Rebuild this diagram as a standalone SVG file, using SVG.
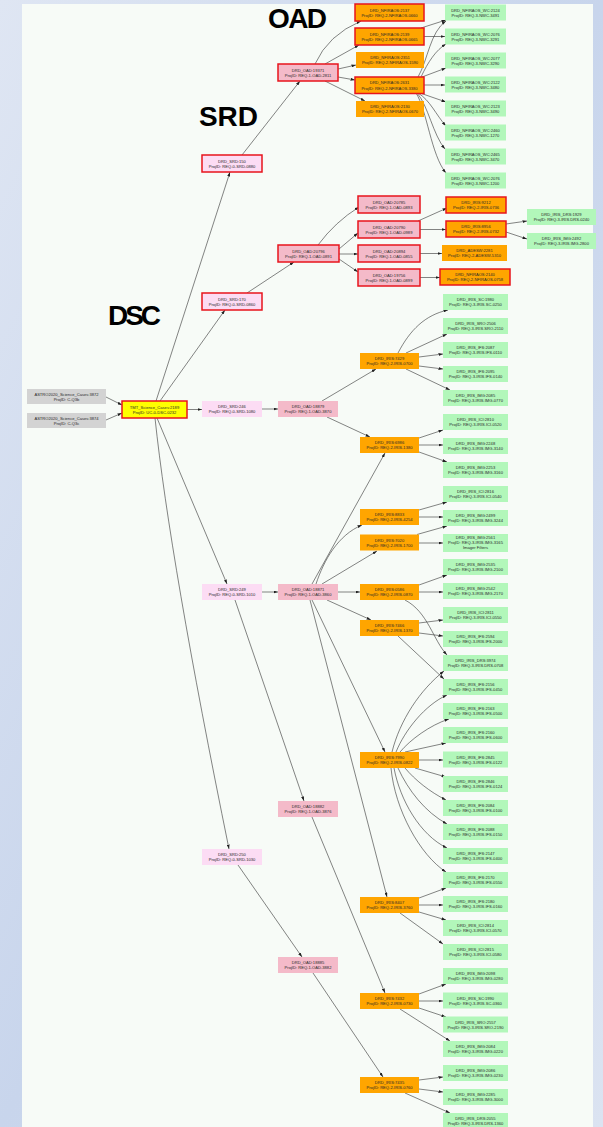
<svg xmlns="http://www.w3.org/2000/svg" width="603" height="1127" viewBox="0 0 603 1127">
<defs>
<style>
.t{font-family:"Liberation Sans",Arial,sans-serif;font-size:4.1px;fill:#2a2a2a;text-anchor:middle}
.big{font-family:"Liberation Sans",Arial,sans-serif;font-size:28px;font-weight:bold;fill:#000}
.gr{fill:#d3d3d3}
.dsc{fill:#ffff00;stroke:#e8141c;stroke-width:1.5}
.srd{fill:#fcdcf4}
.oad{fill:#f4bac9}
.or{fill:#ffa500}
.gn{fill:#b2f7ba}
.rb{stroke:#e8141c;stroke-width:1.5}
.e{fill:none;stroke:#333;stroke-width:0.6;marker-end:url(#ah)}
</style>
<marker id="ah" viewBox="0 0 6 4" refX="6" refY="2" markerWidth="4.5" markerHeight="3" orient="auto" markerUnits="userSpaceOnUse"><path d="M0,0L6,2L0,4z" fill="#222"/></marker>
<linearGradient id="bgG" x1="0" y1="0" x2="1" y2="1"><stop offset="0" stop-color="#dfe6f3"/><stop offset="0.5" stop-color="#c8d5ec"/><stop offset="1" stop-color="#dbe3f1"/></linearGradient>
</defs>
<rect width="603" height="1127" fill="url(#bgG)"/>
<rect x="22" y="4" width="571" height="1123" fill="#f7fbf7"/>
<g id="titles">
<text class="big" x="268" y="28" textLength="59">OAD</text>
<text class="big" x="199" y="126" textLength="59">SRD</text>
<text class="big" x="108" y="325" textLength="53">DSC</text>
</g>
<g id="connectors">
<path class="e" d="M106,397 L122,405"/>
<path class="e" d="M106,420 L122,413"/>
<path class="e" d="M187,409.5 L202,409.5"/>
<path class="e" d="M156,401 L230,172"/>
<path class="e" d="M160,401 L225,310"/>
<path class="e" d="M157,418 L227,584"/>
<path class="e" d="M155,418 Q170,560 229,849"/>
<path class="e" d="M242,155 L300,81"/>
<path class="e" d="M247,293 L294,262"/>
<path class="e" d="M262,409 L278,409"/>
<path class="e" d="M262,592 L278,592"/>
<path class="e" d="M235,600 L304,801"/>
<path class="e" d="M238,865 L302,957"/>
<path class="e" d="M315,64 Q328,35 361,21"/>
<path class="e" d="M325,64 L359,45"/>
<path class="e" d="M338,69 L356,65"/>
<path class="e" d="M338,77 L355,80"/>
<path class="e" d="M325,81 L365,101"/>
<path class="e" d="M421,28 L446,20"/>
<path class="e" d="M424,36.5 L445,36.5"/>
<path class="e" d="M418,77 C428,60 430,32 446,21"/>
<path class="e" d="M421,77 C428,62 436,50 446,44"/>
<path class="e" d="M422,77 L446,68"/>
<path class="e" d="M424,85 L445,85"/>
<path class="e" d="M420,93 L446,102"/>
<path class="e" d="M418,93 C430,100 436,115 446,126"/>
<path class="e" d="M417,93 C428,105 433,135 445,149"/>
<path class="e" d="M416,93 C427,110 431,155 446,173"/>
<path class="e" d="M318,245 Q335,222 359,207"/>
<path class="e" d="M339,249 L358,233"/>
<path class="e" d="M339,254 L358,254"/>
<path class="e" d="M339,259 L358,272"/>
<path class="e" d="M418,221 L447,208"/>
<path class="e" d="M420,229.5 L446,229.5"/>
<path class="e" d="M420,253.5 L442,253.5"/>
<path class="e" d="M420,277.5 L440,277.5"/>
<path class="e" d="M506,224 L527,221"/>
<path class="e" d="M506,232 L527,239"/>
<path class="e" d="M322,401 L376,369"/>
<path class="e" d="M327,417 L370,437"/>
<path class="e" d="M312,584 L385,453"/>
<path class="e" d="M316,584 C324,560 338,535 362,525"/>
<path class="e" d="M322,584 L377,551"/>
<path class="e" d="M338,592 L360,592"/>
<path class="e" d="M327,600 L371,620"/>
<path class="e" d="M312,600 L385,752"/>
<path class="e" d="M310,600 L387,897"/>
<path class="e" d="M312,817 L385,993"/>
<path class="e" d="M313,973 L383,1077"/>
<path class="e" d="M398,353 C410,330 425,315 448,310"/>
<path class="e" d="M406,353 L447,334"/>
<path class="e" d="M419,357 L443,354"/>
<path class="e" d="M419,366 L443,369"/>
<path class="e" d="M406,369 L450,390"/>
<path class="e" d="M419,438 L443,430"/>
<path class="e" d="M419,445 L443,445"/>
<path class="e" d="M419,452 L447,462"/>
<path class="e" d="M419,510 L447,502"/>
<path class="e" d="M419,517 L443,517"/>
<path class="e" d="M417,534.5 L447,526"/>
<path class="e" d="M419,543 L443,543"/>
<path class="e" d="M419,585 L447,575"/>
<path class="e" d="M419,592 L443,592"/>
<path class="e" d="M405,600 C428,612 433,640 447,655"/>
<path class="e" d="M419,623 L443,620"/>
<path class="e" d="M419,633 L443,636"/>
<path class="e" d="M398,636 L444,679"/>
<path class="e" d="M392,752 C400,720 420,690 444,671"/>
<path class="e" d="M396,752 C405,730 425,705 447,695"/>
<path class="e" d="M400,752 C410,740 430,725 449,719"/>
<path class="e" d="M405,752 L446,743"/>
<path class="e" d="M419,760 L443,760"/>
<path class="e" d="M415,768 L446,777"/>
<path class="e" d="M405,768 C415,780 430,792 446,800"/>
<path class="e" d="M398,768 C408,790 425,812 447,824"/>
<path class="e" d="M394,768 C400,800 420,835 447,848"/>
<path class="e" d="M391,768 C395,810 420,855 446,872"/>
<path class="e" d="M419,898 L446,888"/>
<path class="e" d="M419,905 L443,905"/>
<path class="e" d="M419,912 L446,920"/>
<path class="e" d="M400,913 L443,944"/>
<path class="e" d="M419,994 L446,984"/>
<path class="e" d="M419,1001 L443,1001"/>
<path class="e" d="M419,1008 L446,1017"/>
<path class="e" d="M400,1009 L450,1041"/>
<path class="e" d="M419,1080 L443,1077"/>
<path class="e" d="M419,1089 L443,1092"/>
<path class="e" d="M405,1093 L450,1113"/>
</g>
<g id="n_astro3872"><rect class="gr" x="27" y="389" width="79" height="15"/><text class="t" x="66.5" y="395.6">ASTRO2020_Science_Cases:3872</text><text class="t" x="66.5" y="400.8">ProjID: C-Q3b</text></g>
<g id="n_astro3874"><rect class="gr" x="27" y="413" width="79" height="15"/><text class="t" x="66.5" y="419.6">ASTRO2020_Science_Cases:3874</text><text class="t" x="66.5" y="424.8">ProjID: C-Q3c</text></g>
<g id="n_dsc2189"><rect class="dsc" x="122" y="401" width="65" height="17"/><text class="t" x="154.5" y="408.6">TMT_Science_Cases:2189</text><text class="t" x="154.5" y="413.8">ProjID: UC-0-DSC-0232</text></g>
<g id="n_srd150"><rect class="srd rb" x="202" y="155" width="60" height="17"/><text class="t" x="232" y="162.6">DRD_SRD:150</text><text class="t" x="232" y="167.8">ProjID: REQ-0-SRD-0880</text></g>
<g id="n_srd170"><rect class="srd rb" x="202" y="293" width="60" height="17"/><text class="t" x="232" y="300.6">DRD_SRD:170</text><text class="t" x="232" y="305.8">ProjID: REQ-0-SRD-0860</text></g>
<g id="n_srd246"><rect class="srd" x="202" y="401" width="60" height="16"/><text class="t" x="232" y="408.1">DRD_SRD:246</text><text class="t" x="232" y="413.3">ProjID: REQ-0-SRD-1080</text></g>
<g id="n_srd249"><rect class="srd" x="202" y="584" width="60" height="16"/><text class="t" x="232" y="591.1">DRD_SRD:249</text><text class="t" x="232" y="596.3">ProjID: REQ-0-SRD-1010</text></g>
<g id="n_srd250"><rect class="srd" x="202" y="849" width="60" height="16"/><text class="t" x="232" y="856.1">DRD_SRD:250</text><text class="t" x="232" y="861.3">ProjID: REQ-0-SRD-1030</text></g>
<g id="n_oad19371"><rect class="oad rb" x="278" y="64" width="60" height="17"/><text class="t" x="308" y="71.6">DRD_OAD:19371</text><text class="t" x="308" y="76.8">ProjID: REQ-1-OAD-2811</text></g>
<g id="n_oad20796"><rect class="oad rb" x="278" y="245" width="61" height="17"/><text class="t" x="308.5" y="252.6">DRD_OAD:20796</text><text class="t" x="308.5" y="257.8">ProjID: REQ-1-OAD-0891</text></g>
<g id="n_oad18879"><rect class="oad" x="278" y="401" width="60" height="16"/><text class="t" x="308" y="408.1">DRD_OAD:18879</text><text class="t" x="308" y="413.3">ProjID: REQ-1-OAD-3870</text></g>
<g id="n_oad18871"><rect class="oad" x="278" y="584" width="60" height="16"/><text class="t" x="308" y="591.1">DRD_OAD:18871</text><text class="t" x="308" y="596.3">ProjID: REQ-1-OAD-3860</text></g>
<g id="n_oad18882"><rect class="oad" x="278" y="801" width="60" height="16"/><text class="t" x="308" y="808.1">DRD_OAD:18882</text><text class="t" x="308" y="813.3">ProjID: REQ-1-OAD-3876</text></g>
<g id="n_oad18885"><rect class="oad" x="278" y="957" width="60" height="16"/><text class="t" x="308" y="964.1">DRD_OAD:18885</text><text class="t" x="308" y="969.3">ProjID: REQ-1-OAD-3882</text></g>
<g id="n_nf2137"><rect class="or rb" x="355" y="4" width="69" height="17"/><text class="t" x="389.5" y="11.6">DRD_NFIRAOS:2137</text><text class="t" x="389.5" y="16.8">ProjID: REQ-2-NFIRAOS-0660</text></g>
<g id="n_nf2139"><rect class="or rb" x="355" y="28" width="69" height="17"/><text class="t" x="389.5" y="35.6">DRD_NFIRAOS:2139</text><text class="t" x="389.5" y="40.8">ProjID: REQ-2-NFIRAOS-0665</text></g>
<g id="n_nf2351"><rect class="or" x="356" y="52" width="68" height="16"/><text class="t" x="390" y="59.1">DRD_NFIRAOS:2351</text><text class="t" x="390" y="64.3">ProjID: REQ-2-NFIRAOS-1590</text></g>
<g id="n_nf2631"><rect class="or rb" x="355" y="77" width="69" height="16.5"/><text class="t" x="389.5" y="84.4">DRD_NFIRAOS:2631</text><text class="t" x="389.5" y="89.6">ProjID: REQ-2-NFIRAOS-3380</text></g>
<g id="n_nf2130"><rect class="or" x="356" y="101" width="68" height="16"/><text class="t" x="390" y="108.1">DRD_NFIRAOS:2130</text><text class="t" x="390" y="113.3">ProjID: REQ-2-NFIRAOS-0670</text></g>
<g id="n_wc2124"><rect class="gn" x="445" y="4.5" width="61" height="16"/><text class="t" x="475.5" y="11.6">DRD_NFIRAOS_WC:2124</text><text class="t" x="475.5" y="16.8">ProjID: REQ-3-NWC-3491</text></g>
<g id="n_wc2076"><rect class="gn" x="445" y="28.5" width="61" height="16"/><text class="t" x="475.5" y="35.6">DRD_NFIRAOS_WC:2076</text><text class="t" x="475.5" y="40.8">ProjID: REQ-3-NWC-3291</text></g>
<g id="n_wc2077"><rect class="gn" x="445" y="52.5" width="61" height="16"/><text class="t" x="475.5" y="59.6">DRD_NFIRAOS_WC:2077</text><text class="t" x="475.5" y="64.8">ProjID: REQ-3-NWC-3290</text></g>
<g id="n_wc2122"><rect class="gn" x="445" y="76.5" width="61" height="16"/><text class="t" x="475.5" y="83.6">DRD_NFIRAOS_WC:2122</text><text class="t" x="475.5" y="88.8">ProjID: REQ-3-NWC-3480</text></g>
<g id="n_wc2123"><rect class="gn" x="445" y="100.5" width="61" height="16"/><text class="t" x="475.5" y="107.6">DRD_NFIRAOS_WC:2123</text><text class="t" x="475.5" y="112.8">ProjID: REQ-3-NWC-3490</text></g>
<g id="n_wc2460"><rect class="gn" x="445" y="124.5" width="61" height="16"/><text class="t" x="475.5" y="131.6">DRD_NFIRAOS_WC:2460</text><text class="t" x="475.5" y="136.8">ProjID: REQ-3-NWC-1270</text></g>
<g id="n_wc2465"><rect class="gn" x="445" y="148.5" width="61" height="16"/><text class="t" x="475.5" y="155.6">DRD_NFIRAOS_WC:2465</text><text class="t" x="475.5" y="160.8">ProjID: REQ-3-NWC-3470</text></g>
<g id="n_wc2076b"><rect class="gn" x="445" y="172.5" width="61" height="16"/><text class="t" x="475.5" y="179.6">DRD_NFIRAOS_WC:2076</text><text class="t" x="475.5" y="184.8">ProjID: REQ-3-NWC-1200</text></g>
<g id="n_oad20785"><rect class="oad rb" x="358" y="196" width="62" height="17"/><text class="t" x="389" y="203.6">DRD_OAD:20785</text><text class="t" x="389" y="208.8">ProjID: REQ-1-OAD-0893</text></g>
<g id="n_oad20790"><rect class="oad rb" x="358" y="221" width="62" height="17"/><text class="t" x="389" y="228.6">DRD_OAD:20790</text><text class="t" x="389" y="233.8">ProjID: REQ-1-OAD-0989</text></g>
<g id="n_oad20894"><rect class="oad rb" x="358" y="245" width="62" height="17"/><text class="t" x="389" y="252.6">DRD_OAD:20894</text><text class="t" x="389" y="257.8">ProjID: REQ-1-OAD-0855</text></g>
<g id="n_oad19756"><rect class="oad rb" x="358" y="269" width="62" height="17"/><text class="t" x="389" y="276.6">DRD_OAD:19756</text><text class="t" x="389" y="281.8">ProjID: REQ-1-OAD-0899</text></g>
<g id="n_iris9212"><rect class="or rb" x="446" y="197" width="60" height="16"/><text class="t" x="476" y="204.1">DRD_IRIS:9212</text><text class="t" x="476" y="209.3">ProjID: REQ-2-IRIS-0736</text></g>
<g id="n_iris8956"><rect class="or rb" x="446" y="221" width="60" height="16"/><text class="t" x="476" y="228.1">DRD_IRIS:8956</text><text class="t" x="476" y="233.3">ProjID: REQ-2-IRIS-0732</text></g>
<g id="n_adesw2281"><rect class="or" x="442" y="245" width="65" height="16"/><text class="t" x="474.5" y="252.1">DRD_ADESW:2281</text><text class="t" x="474.5" y="257.3">ProjID: REQ-2-ADESW-5310</text></g>
<g id="n_nf2140"><rect class="or rb" x="440" y="269" width="70" height="16"/><text class="t" x="475" y="276.1">DRD_NFIRAOS:2140</text><text class="t" x="475" y="281.3">ProjID: REQ-2-NFIRAOS-0758</text></g>
<g id="n_drs1929"><rect class="gn" x="527" y="209" width="69" height="16"/><text class="t" x="561.5" y="216.1">DRD_IRIS_DRS:1929</text><text class="t" x="561.5" y="221.3">ProjID: REQ-3-IRIS.DRS-0240</text></g>
<g id="n_img2492"><rect class="gn" x="527" y="233" width="69" height="16"/><text class="t" x="561.5" y="240.1">DRD_IRIS_IMG:2492</text><text class="t" x="561.5" y="245.3">ProjID: REQ-3-IRIS.IMG-2800</text></g>
<g id="n_iris7429"><rect class="or" x="360" y="353" width="59" height="16"/><text class="t" x="389.5" y="360.1">DRD_IRIS:7429</text><text class="t" x="389.5" y="365.3">ProjID: REQ-2-IRIS-0700</text></g>
<g id="n_iris6986"><rect class="or" x="360" y="437" width="59" height="16"/><text class="t" x="389.5" y="444.1">DRD_IRIS:6986</text><text class="t" x="389.5" y="449.3">ProjID: REQ-2-IRIS-1380</text></g>
<g id="n_iris8833"><rect class="or" x="360" y="509" width="59" height="16"/><text class="t" x="389.5" y="516.1">DRD_IRIS:8833</text><text class="t" x="389.5" y="521.3">ProjID: REQ-2-IRIS-4254</text></g>
<g id="n_iris7020"><rect class="or" x="360" y="534.5" width="59" height="16"/><text class="t" x="389.5" y="541.6">DRD_IRIS:7020</text><text class="t" x="389.5" y="546.8">ProjID: REQ-2-IRIS-1700</text></g>
<g id="n_iris0586"><rect class="or" x="360" y="584" width="59" height="16"/><text class="t" x="389.5" y="591.1">DRD_IRIS:0586</text><text class="t" x="389.5" y="596.3">ProjID: REQ-2-IRIS-0870</text></g>
<g id="n_iris7466"><rect class="or" x="360" y="620" width="59" height="16"/><text class="t" x="389.5" y="627.1">DRD_IRIS:7466</text><text class="t" x="389.5" y="632.3">ProjID: REQ-2-IRIS-1370</text></g>
<g id="n_iris7990"><rect class="or" x="360" y="752" width="59" height="16"/><text class="t" x="389.5" y="759.1">DRD_IRIS:7990</text><text class="t" x="389.5" y="764.3">ProjID: REQ-2-IRIS-0822</text></g>
<g id="n_iris8407"><rect class="or" x="360" y="897" width="59" height="16"/><text class="t" x="389.5" y="904.1">DRD_IRIS:8407</text><text class="t" x="389.5" y="909.3">ProjID: REQ-2-IRIS-3760</text></g>
<g id="n_iris7432"><rect class="or" x="360" y="993" width="59" height="16"/><text class="t" x="389.5" y="1000.1">DRD_IRIS:7432</text><text class="t" x="389.5" y="1005.3">ProjID: REQ-2-IRIS-0730</text></g>
<g id="n_iris7435"><rect class="or" x="360" y="1077" width="59" height="16"/><text class="t" x="389.5" y="1084.1">DRD_IRIS:7435</text><text class="t" x="389.5" y="1089.3">ProjID: REQ-2-IRIS-0760</text></g>
<g id="n_sc1980"><rect class="gn" x="443" y="294" width="65" height="16"/><text class="t" x="475.5" y="301.1">DRD_IRIS_SC:1980</text><text class="t" x="475.5" y="306.3">ProjID: REQ-3-IRIS.SC-0250</text></g>
<g id="n_sro2506"><rect class="gn" x="443" y="318" width="65" height="16"/><text class="t" x="475.5" y="325.1">DRD_IRIS_SRO:2506</text><text class="t" x="475.5" y="330.3">ProjID: REQ-3-IRIS.SRO-2110</text></g>
<g id="n_ifs2087"><rect class="gn" x="443" y="342" width="65" height="16"/><text class="t" x="475.5" y="349.1">DRD_IRIS_IFS:2087</text><text class="t" x="475.5" y="354.3">ProjID: REQ-3-IRIS.IFS-0110</text></g>
<g id="n_ifs2095"><rect class="gn" x="443" y="366" width="65" height="16"/><text class="t" x="475.5" y="373.1">DRD_IRIS_IFS:2095</text><text class="t" x="475.5" y="378.3">ProjID: REQ-3-IRIS.IFS-0140</text></g>
<g id="n_img2085"><rect class="gn" x="443" y="390" width="65" height="16"/><text class="t" x="475.5" y="397.1">DRD_IRIS_IMG:2085</text><text class="t" x="475.5" y="402.3">ProjID: REQ-3-IRIS.IMG-0770</text></g>
<g id="n_ici2810"><rect class="gn" x="443" y="414" width="65" height="16"/><text class="t" x="475.5" y="421.1">DRD_IRIS_ICI:2810</text><text class="t" x="475.5" y="426.3">ProjID: REQ-3-IRIS.ICI-0520</text></g>
<g id="n_img2248"><rect class="gn" x="443" y="438" width="65" height="16"/><text class="t" x="475.5" y="445.1">DRD_IRIS_IMG:2248</text><text class="t" x="475.5" y="450.3">ProjID: REQ-3-IRIS.IMG-3140</text></g>
<g id="n_img2253"><rect class="gn" x="443" y="462" width="65" height="16"/><text class="t" x="475.5" y="469.1">DRD_IRIS_IMG:2253</text><text class="t" x="475.5" y="474.3">ProjID: REQ-3-IRIS.IMG-3160</text></g>
<g id="n_ici2816"><rect class="gn" x="443" y="486" width="65" height="16"/><text class="t" x="475.5" y="493.1">DRD_IRIS_ICI:2816</text><text class="t" x="475.5" y="498.3">ProjID: REQ-3-IRIS.ICI-0540</text></g>
<g id="n_img2499"><rect class="gn" x="443" y="510" width="65" height="16"/><text class="t" x="475.5" y="517.1">DRD_IRIS_IMG:2499</text><text class="t" x="475.5" y="522.3">ProjID: REQ-3-IRIS.IMG-3244</text></g>
<g id="n_img2561"><rect class="gn" x="443" y="534" width="65" height="18"/><text class="t" x="475.5" y="538.6">DRD_IRIS_IMG:2561</text><text class="t" x="475.5" y="543.8">ProjID: REQ-3-IRIS.IMG-3165</text><text class="t" x="475.5" y="549">Imager Filters</text></g>
<g id="n_img2535"><rect class="gn" x="443" y="559" width="65" height="16"/><text class="t" x="475.5" y="566.1">DRD_IRIS_IMG:2535</text><text class="t" x="475.5" y="571.3">ProjID: REQ-3-IRIS.IMG-2100</text></g>
<g id="n_img2542"><rect class="gn" x="443" y="583" width="65" height="16"/><text class="t" x="475.5" y="590.1">DRD_IRIS_IMG:2542</text><text class="t" x="475.5" y="595.3">ProjID: REQ-3-IRIS.IMG-2170</text></g>
<g id="n_ici2811"><rect class="gn" x="443" y="607" width="65" height="16"/><text class="t" x="475.5" y="614.1">DRD_IRIS_ICI:2811</text><text class="t" x="475.5" y="619.3">ProjID: REQ-3-IRIS.ICI-0550</text></g>
<g id="n_ifs2594"><rect class="gn" x="443" y="631" width="65" height="16"/><text class="t" x="475.5" y="638.1">DRD_IRIS_IFS:2594</text><text class="t" x="475.5" y="643.3">ProjID: REQ-3-IRIS.IFS-2000</text></g>
<g id="n_drs3974"><rect class="gn" x="443" y="655" width="65" height="16"/><text class="t" x="475.5" y="662.1">DRD_IRIS_DRS:3974</text><text class="t" x="475.5" y="667.3">ProjID: REQ-3-IRIS.DRS-0708</text></g>
<g id="n_ifs2156"><rect class="gn" x="443" y="679" width="65" height="16"/><text class="t" x="475.5" y="686.1">DRD_IRIS_IFS:2156</text><text class="t" x="475.5" y="691.3">ProjID: REQ-3-IRIS.IFS-0450</text></g>
<g id="n_ifs2163"><rect class="gn" x="443" y="703" width="65" height="16"/><text class="t" x="475.5" y="710.1">DRD_IRIS_IFS:2163</text><text class="t" x="475.5" y="715.3">ProjID: REQ-3-IRIS.IFS-0500</text></g>
<g id="n_ifs2160"><rect class="gn" x="443" y="727" width="65" height="16"/><text class="t" x="475.5" y="734.1">DRD_IRIS_IFS:2160</text><text class="t" x="475.5" y="739.3">ProjID: REQ-3-IRIS.IFS-0600</text></g>
<g id="n_ifs2845"><rect class="gn" x="443" y="751.5" width="65" height="16"/><text class="t" x="475.5" y="758.6">DRD_IRIS_IFS:2845</text><text class="t" x="475.5" y="763.8">ProjID: REQ-3-IRIS.IFS-0122</text></g>
<g id="n_ifs2846"><rect class="gn" x="443" y="776" width="65" height="16"/><text class="t" x="475.5" y="783.1">DRD_IRIS_IFS:2846</text><text class="t" x="475.5" y="788.3">ProjID: REQ-3-IRIS.IFS-0124</text></g>
<g id="n_ifs2084"><rect class="gn" x="443" y="800" width="65" height="16"/><text class="t" x="475.5" y="807.1">DRD_IRIS_IFS:2084</text><text class="t" x="475.5" y="812.3">ProjID: REQ-3-IRIS.IFS-0100</text></g>
<g id="n_ifs2088"><rect class="gn" x="443" y="824" width="65" height="16"/><text class="t" x="475.5" y="831.1">DRD_IRIS_IFS:2088</text><text class="t" x="475.5" y="836.3">ProjID: REQ-3-IRIS.IFS-0150</text></g>
<g id="n_ifs2147"><rect class="gn" x="443" y="848" width="65" height="16"/><text class="t" x="475.5" y="855.1">DRD_IRIS_IFS:2147</text><text class="t" x="475.5" y="860.3">ProjID: REQ-3-IRIS.IFS-0400</text></g>
<g id="n_ifs2170"><rect class="gn" x="443" y="872" width="65" height="16"/><text class="t" x="475.5" y="879.1">DRD_IRIS_IFS:2170</text><text class="t" x="475.5" y="884.3">ProjID: REQ-3-IRIS.IFS-0550</text></g>
<g id="n_ifs2180"><rect class="gn" x="443" y="896" width="65" height="16"/><text class="t" x="475.5" y="903.1">DRD_IRIS_IFS:2180</text><text class="t" x="475.5" y="908.3">ProjID: REQ-3-IRIS.IFS-0160</text></g>
<g id="n_ici2814"><rect class="gn" x="443" y="920" width="65" height="16"/><text class="t" x="475.5" y="927.1">DRD_IRIS_ICI:2814</text><text class="t" x="475.5" y="932.3">ProjID: REQ-3-IRIS.ICI-0570</text></g>
<g id="n_ici2815"><rect class="gn" x="443" y="944" width="65" height="16"/><text class="t" x="475.5" y="951.1">DRD_IRIS_ICI:2815</text><text class="t" x="475.5" y="956.3">ProjID: REQ-3-IRIS.ICI-0580</text></g>
<g id="n_img2098"><rect class="gn" x="443" y="968" width="65" height="16"/><text class="t" x="475.5" y="975.1">DRD_IRIS_IMG:2098</text><text class="t" x="475.5" y="980.3">ProjID: REQ-3-IRIS.IMG-0280</text></g>
<g id="n_sc1990"><rect class="gn" x="443" y="992.5" width="65" height="16"/><text class="t" x="475.5" y="999.6">DRD_IRIS_SC:1990</text><text class="t" x="475.5" y="1004.8">ProjID: REQ-3-IRIS.SC-0360</text></g>
<g id="n_sro2557"><rect class="gn" x="443" y="1016.5" width="65" height="16"/><text class="t" x="475.5" y="1023.6">DRD_IRIS_SRO:2557</text><text class="t" x="475.5" y="1028.8">ProjID: REQ-3-IRIS.SRO-2190</text></g>
<g id="n_img2084"><rect class="gn" x="443" y="1041" width="65" height="16"/><text class="t" x="475.5" y="1048.1">DRD_IRIS_IMG:2084</text><text class="t" x="475.5" y="1053.3">ProjID: REQ-3-IRIS.IMG-0220</text></g>
<g id="n_img2086"><rect class="gn" x="443" y="1065" width="65" height="16"/><text class="t" x="475.5" y="1072.1">DRD_IRIS_IMG:2086</text><text class="t" x="475.5" y="1077.3">ProjID: REQ-3-IRIS.IMG-0230</text></g>
<g id="n_img2285"><rect class="gn" x="443" y="1089" width="65" height="16"/><text class="t" x="475.5" y="1096.1">DRD_IRIS_IMG:2285</text><text class="t" x="475.5" y="1101.3">ProjID: REQ-3-IRIS.IMG-3000</text></g>
<g id="n_drs2055"><rect class="gn" x="443" y="1113" width="65" height="16"/><text class="t" x="475.5" y="1120.1">DRD_IRIS_DRS:2055</text><text class="t" x="475.5" y="1125.3">ProjID: REQ-3-IRIS.DRS-1360</text></g>
</svg>
